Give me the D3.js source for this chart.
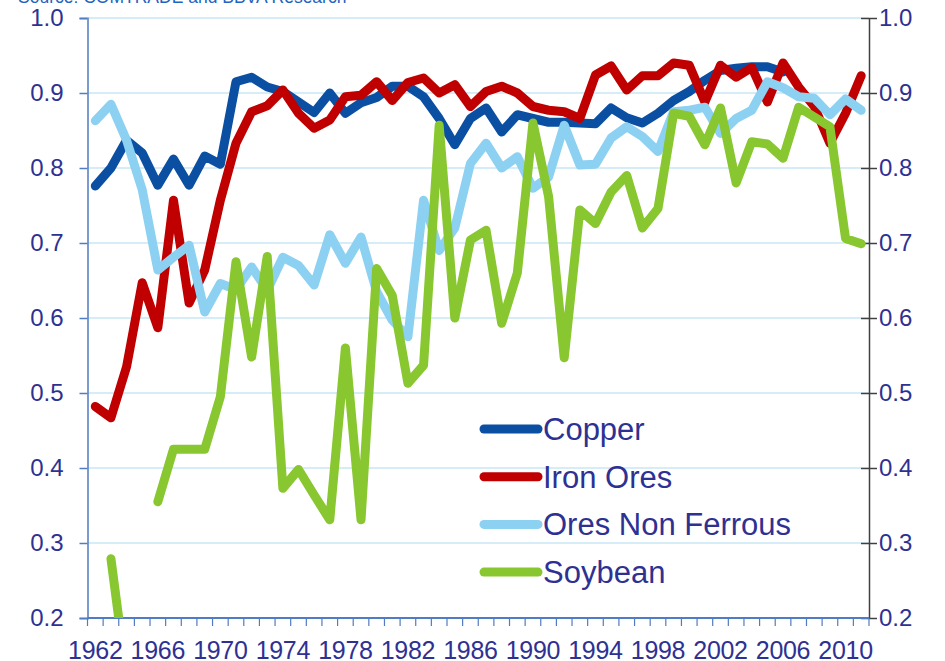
<!DOCTYPE html>
<html>
<head>
<meta charset="utf-8">
<script src="https://cdn.jsdelivr.net/npm/d3@7"></script>
<style>
	body { margin: 0; background: #fff; }
	svg { display: block; font-family: "Liberation Sans", Arial, sans-serif; }
</style>
</head>
<body>
<svg width="945" height="661"></svg>
<script>
// values per year, 1962-2011
const years = [1962, 1963, 1964, 1965, 1966, 1967, 1968, 1969, 1970, 1971,
	1972, 1973, 1974, 1975, 1976, 1977, 1978, 1979, 1980, 1981,
	1982, 1983, 1984, 1985, 1986, 1987, 1988, 1989, 1990, 1991,
	1992, 1993, 1994, 1995, 1996, 1997, 1998, 1999, 2000, 2001,
	2002, 2003, 2004, 2005, 2006, 2007, 2008, 2009, 2010, 2011];

const copper = [0.776, 0.80, 0.837, 0.82, 0.777, 0.812, 0.777, 0.816, 0.805, 0.915,
	0.921, 0.908, 0.902, 0.888, 0.874, 0.90, 0.873, 0.887, 0.894, 0.909,
	0.909, 0.895, 0.866, 0.831, 0.866, 0.88, 0.848, 0.871, 0.866, 0.861,
	0.861, 0.86, 0.859, 0.88, 0.867, 0.86, 0.873, 0.89, 0.902, 0.917,
	0.93, 0.933, 0.935, 0.935, 0.928, null, null, null, null, null];

const ironOres = [0.482, 0.467, 0.535, 0.647, 0.587, 0.757, 0.62, 0.664, 0.757, 0.833,
	0.875, 0.883, 0.904, 0.873, 0.853, 0.864, 0.895, 0.897, 0.915, 0.89,
	0.914, 0.92, 0.90, 0.911, 0.882, 0.902, 0.909, 0.90, 0.882, 0.877,
	0.875, 0.866, 0.924, 0.936, 0.904, 0.923, 0.923, 0.94, 0.937, 0.888,
	0.937, 0.921, 0.934, 0.888, 0.94, 0.908, 0.882, 0.833, 0.873, 0.923];

const oresNonFerrous = [0.863, 0.885, 0.837, 0.771, 0.664, 0.681, 0.697, 0.608, 0.646, 0.638,
	0.668, 0.637, 0.681, 0.67, 0.644, 0.711, 0.673, 0.708, 0.635, 0.597,
	0.575, 0.757, 0.69, 0.72, 0.806, 0.833, 0.80, 0.815, 0.773, 0.788,
	0.857, 0.804, 0.805, 0.84, 0.855, 0.842, 0.822, 0.875, 0.877, 0.881,
	0.846, 0.866, 0.877, 0.915, 0.907, 0.895, 0.893, 0.871, 0.892, 0.877];

const soybean = [null, 0.279, 0.12, null, 0.355, 0.425, 0.425, 0.425, 0.495, 0.675,
	0.548, 0.682, 0.373, 0.398, 0.364, 0.331, 0.56, 0.331, 0.666, 0.63,
	0.513, 0.537, 0.857, 0.60, 0.704, 0.717, 0.593, 0.66, 0.86, 0.762,
	0.547, 0.744, 0.726, 0.768, 0.79, 0.72, 0.746, 0.873, 0.869, 0.831,
	0.88, 0.78, 0.835, 0.832, 0.813, 0.881, 0.868, 0.855, 0.706, 0.699];

const seriesNames = ["Copper", "Iron Ores", "Ores Non Ferrous", "Soybean"];
const seriesColors = ["#0b4fa3", "#c00000", "#8cd1f2", "#88c72f"];
const yTicks = [0.2, 0.3, 0.4, 0.5, 0.6, 0.7, 0.8, 0.9, 1.0];
const xLabelYears = [1962, 1966, 1970, 1974, 1978, 1982, 1986, 1990, 1994, 1998, 2002, 2006, 2010];
const sourceText = "Source: COMTRADE and BBVA Research";

const plot = { l: 87.5, r: 869, t: 18, b: 618 };
const textColor = "#2e3192";

const svg = d3.select("svg");

const scaleX = d3.scaleBand().domain(years).range([plot.l, plot.r]).padding(0);
const scaleY = d3.scaleLinear().domain([0.2, 1.0]).range([plot.b, plot.t]);
const cx = (yr) => scaleX(yr) + scaleX.bandwidth() / 2;

// source line, cut off at the top like the original
svg.append("text")
	.attr("x", 18)
	.attr("y", 3)
	.attr("font-size", 17.5)
	.attr("fill", "#1f63c0")
	.text(sourceText);

// gridlines
svg.append("g")
	.selectAll("line")
	.data(yTicks)
	.join("line")
	.attr("x1", plot.l)
	.attr("x2", plot.r)
	.attr("y1", (d) => scaleY(d))
	.attr("y2", (d) => scaleY(d))
	.attr("stroke", "#c9e7f5")
	.attr("stroke-width", 1.5);

// left axis
let axisLeft = d3.axisLeft(scaleY).tickValues(yTicks).tickSize(8).tickPadding(16)
	.tickFormat(d3.format(".1f"));
let axisLeftG = svg.append("g")
	.attr("transform", `translate(${plot.l}, 0)`)
	.call(axisLeft);
axisLeftG.select(".domain").attr("stroke", "#7a9bd0").attr("stroke-width", 2);
axisLeftG.selectAll(".tick line").attr("stroke", "#4f7cc4").attr("stroke-width", 1.5);
axisLeftG.selectAll(".tick text")
	.attr("font-size", 24)
	.attr("font-family", "Liberation Sans, Arial, sans-serif")
	.attr("fill", textColor);

// right axis, ticks crossing the line
let axisRight = d3.axisRight(scaleY).tickValues(yTicks).tickSize(0).tickPadding(10)
	.tickFormat(d3.format(".1f"));
let axisRightG = svg.append("g")
	.attr("transform", `translate(${plot.r}, 0)`)
	.call(axisRight);
axisRightG.select(".domain").attr("stroke", "#404040").attr("stroke-width", 1.5);
axisRightG.selectAll(".tick")
	.append("line")
	.attr("x1", -8)
	.attr("x2", 8)
	.attr("stroke", "#404040")
	.attr("stroke-width", 1.5);
axisRightG.selectAll(".tick text")
	.attr("font-size", 24)
	.attr("font-family", "Liberation Sans, Arial, sans-serif")
	.attr("fill", textColor);

// bottom axis: ticks between categories
let bottomG = svg.append("g");
bottomG.append("line")
	.attr("x1", plot.l)
	.attr("x2", plot.r)
	.attr("y1", plot.b)
	.attr("y2", plot.b)
	.attr("stroke", "#4f7cc4")
	.attr("stroke-width", 2);
bottomG.selectAll("line.tk")
	.data(years.concat([null]))
	.join("line")
	.attr("class", "tk")
	.attr("x1", (d, i) => (d == null ? plot.r : scaleX(d)))
	.attr("x2", (d, i) => (d == null ? plot.r : scaleX(d)))
	.attr("y1", plot.b)
	.attr("y2", plot.b + 8)
	.attr("stroke", "#4f7cc4")
	.attr("stroke-width", 1.2);
bottomG.selectAll("text")
	.data(xLabelYears)
	.join("text")
	.attr("x", (d) => cx(d))
	.attr("y", 659)
	.attr("text-anchor", "middle")
	.attr("font-size", 25)
	.attr("letter-spacing", -0.3)
	.attr("fill", textColor)
	.text((d) => d);

// series lines, clipped to the plot area
svg.append("clipPath")
	.attr("id", "plotClip")
	.append("rect")
	.attr("x", plot.l)
	.attr("y", plot.t - 10)
	.attr("width", plot.r - plot.l)
	.attr("height", plot.b - plot.t + 10);

const allSeries = [copper, ironOres, oresNonFerrous, soybean];
const line = d3.line()
	.defined((d) => d.v != null)
	.x((d) => cx(d.year))
	.y((d) => scaleY(d.v));

let linesG = svg.append("g").attr("clip-path", "url(#plotClip)");
allSeries.forEach((values, i) => {
	let pts = years.map((yr, j) => ({ year: yr, v: values[j] }));
	linesG.append("path")
		.datum(pts)
		.attr("d", line)
		.attr("fill", "none")
		.attr("stroke", seriesColors[i])
		.attr("stroke-width", 9)
		.attr("stroke-linejoin", "round")
		.attr("stroke-linecap", "round");
});

// legend
let legendG = svg.append("g");
seriesNames.forEach((name, i) => {
	let y = 429 + i * 47.7;
	legendG.append("line")
		.attr("x1", 484)
		.attr("x2", 538)
		.attr("y1", y)
		.attr("y2", y)
		.attr("stroke", seriesColors[i])
		.attr("stroke-width", 9)
		.attr("stroke-linecap", "round");
	legendG.append("text")
		.attr("x", 543)
		.attr("y", y + 11)
		.attr("font-size", 31)
		.attr("fill", textColor)
		.text(name);
});
</script>
</body>
</html>
